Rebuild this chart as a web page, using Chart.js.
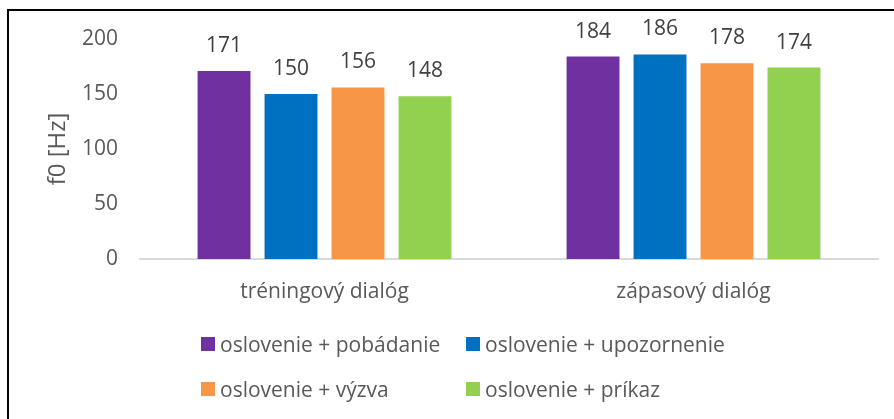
<!DOCTYPE html>
<html>
<head>
<meta charset="utf-8">
<script src="https://cdn.jsdelivr.net/npm/chart.js@4/dist/chart.umd.min.js"></script>
<style>
  html, body { margin: 0; padding: 0; background: #fff; }
  #wrap { position: relative; width: 894px; height: 419px; overflow: hidden; }
  #c { position: absolute; left: 0; top: 0; }
  #legend { position: absolute; left: 201px; top: 321px; display: grid;
            grid-template-columns: 265px 265px; grid-auto-rows: 45px;
            font-family: "Open Sans", sans-serif; font-size: 21px; color: #595959; }
  .item { display: flex; align-items: center; white-space: nowrap; }
  .box { width: 14px; height: 14px; margin-right: 5px; flex: none; }
</style>
</head>
<body>
<div id="wrap">
  <canvas id="c" width="894" height="419"></canvas>
  <div id="legend"></div>
</div>
<script>
const categories = ["tréningový dialóg", "zápasový dialóg"];
const seriesNames = ["oslovenie + pobádanie", "oslovenie + upozornenie", "oslovenie + výzva", "oslovenie + príkaz"];
const pobadanie = [171, 184];
const upozornenie = [150, 186];
const vyzva = [156, 178];
const prikaz = [148, 174];
const yTicks = [0, 50, 100, 150, 200];
const colors = ["#7030A0", "#0070C0", "#F79646", "#92D050"];
const yTitle = "f0 [Hz]";

const seriesValues = [pobadanie, upozornenie, vyzva, prikaz];
const FONT = "'Open Sans', sans-serif";

const dataLabels = {
  id: 'dataLabels',
  afterDatasetsDraw(chart) {
    const ctx = chart.ctx;
    ctx.save();
    ctx.font = "21px " + FONT;
    ctx.fillStyle = "#404040";
    ctx.textAlign = "center";
    ctx.textBaseline = "middle";
    chart.data.datasets.forEach((ds, i) => {
      chart.getDatasetMeta(i).data.forEach((el, j) => {
        ctx.fillText(String(ds.data[j]), el.x, el.y - 25);
      });
    });
    ctx.restore();
  }
};

const frame = {
  id: 'frame',
  afterDraw(chart) {
    const ctx = chart.ctx;
    ctx.save();
    ctx.strokeStyle = "#000";
    ctx.lineWidth = 2;
    ctx.strokeRect(8, 10, 920, 440);
    ctx.restore();
  }
};

const chart = new Chart(document.getElementById('c'), {
  type: 'bar',
  data: {
    labels: categories,
    datasets: seriesNames.map((n, i) => ({
      label: n,
      data: seriesValues[i],
      backgroundColor: colors[i],
      borderWidth: 0,
      categoryPercentage: 0.726,
      barPercentage: 0.79
    }))
  },
  options: {
    responsive: false,
    animation: false,
    layout: { padding: { top: 39, right: 16, left: 0, bottom: 0 } },
    plugins: { legend: { display: false }, tooltip: { enabled: false } },
    scales: {
      x: {
        grid: { display: false, drawTicks: false },
        border: { display: true, color: "#D9D9D9", width: 2 },
        ticks: { color: "#595959", font: { family: FONT, size: 21 }, padding: 20 },
        afterFit(s) { s.height = 160; }
      },
      y: {
        min: 0, max: 200,
        afterBuildTicks(s) { s.ticks = yTicks.map(v => ({ value: v })); },
        grid: { display: false, drawTicks: false },
        border: { display: false },
        ticks: { color: "#595959", font: { family: FONT, size: 21 }, padding: 22 },
        title: { display: true, text: yTitle, color: "#595959",
                 font: { family: FONT, size: 24 }, padding: { top: 44, bottom: 0 } },
        afterFit(s) { s.width = 140; }
      }
    }
  },
  plugins: [dataLabels, frame]
});

const leg = document.getElementById('legend');
seriesNames.forEach((n, i) => {
  const it = document.createElement('div');
  it.className = 'item';
  const b = document.createElement('span');
  b.className = 'box';
  b.style.background = colors[i];
  const t = document.createElement('span');
  t.textContent = n;
  it.appendChild(b); it.appendChild(t);
  leg.appendChild(it);
});
</script>
</body>
</html>
